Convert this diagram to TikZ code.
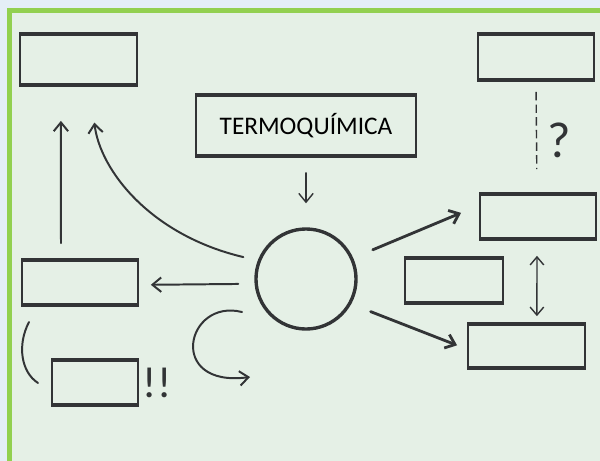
\documentclass[tikz,border=0pt]{standalone}
\usepackage{fontspec}
\setmainfont{Carlito}
\usetikzlibrary{positioning, arrows.meta, calc}
\definecolor{fondocolor}{RGB}{228,238,247}
\definecolor{marcocolor}{RGB}{146,208,80}
\definecolor{hojacolor}{RGB}{229,240,230}
\definecolor{tintacolor}{RGB}{50,52,54}

\begin{document}
\begin{tikzpicture}[x=0.025cm, y=-0.025cm,
    caja/.style={draw=tintacolor, line width=1.2pt, inner sep=0pt,
        path picture={\draw[tintacolor, line width=3.6pt]
            (path picture bounding box.north west) -- (path picture bounding box.north east)
            (path picture bounding box.south west) -- (path picture bounding box.south east);}},
    flecha/.style={draw=tintacolor, line width=1.4pt, line cap=round,
        -{Straight Barb[length=2.2mm, width=3.6mm]}},
    trazo/.style={draw=tintacolor, line width=1.4pt, line cap=round},
    nota/.style={text=tintacolor, font=\fontsize{36}{36}\selectfont, inner sep=0pt}]
    % Fondo y marco verde
    \useasboundingbox (0,0) rectangle (600,461);
    \fill[fondocolor] (0,0) rectangle (600,461);
    \clip (0,0) rectangle (600,461);
    \filldraw[fill=hojacolor, draw=marcocolor, line width=0.125cm] (9.5,10.5) rectangle (640,500);

    % Cajas vacias
    \node[caja, minimum width=2.925cm, minimum height=1.325cm] (arriba) at (78.5,59.5) {};
    \node[caja, minimum width=2.9cm, minimum height=1.2cm] (arribader) at (536,57) {};
    \node[caja, minimum width=2.9cm, minimum height=1.175cm] (derecha) at (538,216.5) {};
    \node[caja, minimum width=2.45cm, minimum height=1.175cm] (medio) at (454,280.5) {};
    \node[caja, minimum width=2.925cm, minimum height=1.15cm] (abajo) at (526.5,346) {};
    \node[caja, minimum width=2.9cm, minimum height=1.175cm] (izq) at (80,282.5) {};
    \node[caja, minimum width=2.15cm, minimum height=1.175cm] (abajoizq) at (95,382.5) {};

    % Titulo
    \node[caja, minimum width=5.5cm, minimum height=1.575cm, font=\fontsize{18}{20}\selectfont,
        text=black] (termo) at (306,125.5) {TERMOQUÍMICA};

    % Circulo central
    \node[circle, draw=tintacolor, line width=2.4pt, minimum size=2.5cm] (centro) at (306,279) {};

    % Flechas
    \draw[flecha, line width=1pt, shorten <=0.375cm, shorten >=0.6cm] (termo.south) -- (centro.north);
    \draw[flecha, shorten <=0.4cm, shorten >=0.3cm]
        ([yshift=-0.12cm]centro.west) -- ([yshift=-0.06cm]izq.east);
    \draw[flecha, shorten <=0.375cm, shorten >=0.85cm]
        ([xshift=-0.475cm]izq.north) -- ([xshift=-0.44cm]arriba.south);
    \draw[flecha, shorten <=0.37cm, shorten >=0.9cm]
        (centro.159) .. controls (150,235) and (100,170) .. ([xshift=0.29cm]arriba.south);
    \draw[flecha, line width=2pt, shorten <=0.53cm, shorten >=0.49cm]
        (centro.24) -- ([yshift=0.28cm]derecha.west);
    \draw[flecha, line width=2pt, shorten <=0.52cm, shorten >=0.27cm]
        (centro.-29) -- ([yshift=-0.08cm]abajo.west);
    \draw[tintacolor, line width=1pt, dashed, dash pattern=on 6pt off 3pt, shorten <=0.25cm, shorten >=0.575cm]
        (arribader.south) -- ([xshift=-0.025cm]derecha.north);
    \draw[flecha, line width=1pt, {Straight Barb[length=2mm, width=3.4mm]}-{Straight Barb[length=2mm, width=3.4mm]},
        shorten <=0.375cm, shorten >=0.15cm]
        ([xshift=-0.025cm]derecha.south) -- ([xshift=0.26cm]abajo.north);

    % Bucle y parentesis
    \coordinate (bucle) at (242,312);
    \draw[flecha] (bucle) .. controls (186,298) and (166,388) .. (250,377);
    \draw[trazo] (29,322) .. controls (17,345) and (21,372) .. (38,383);

    % Signos
    \node[nota] (duda) at (559,140) {?};
    \node[nota, font=\fontsize{31}{31}\selectfont] (ojo) at (157,383) {!!};
\end{tikzpicture}
\end{document}
